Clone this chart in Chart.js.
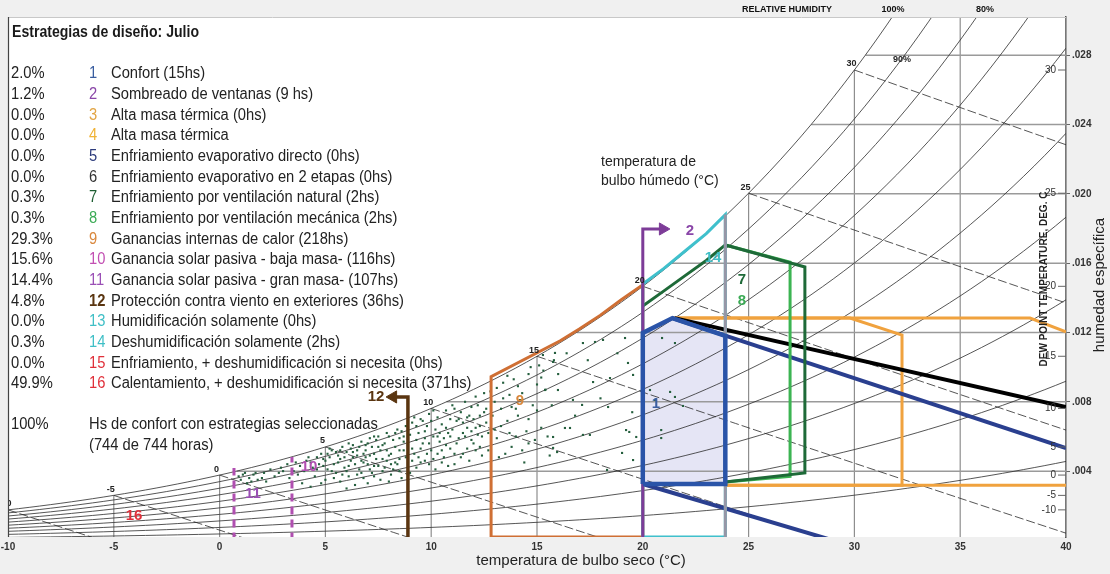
<!DOCTYPE html>
<html>
<head>
<meta charset="utf-8">
<script src="https://cdn.jsdelivr.net/npm/chart.js@4.4.1/dist/chart.umd.min.js"></script>
<style>
  html, body { margin: 0; padding: 0; background: #f0f0f0; }
  #wrap { width: 1110px; height: 574px; }
</style>
</head>
<body>
<div id="wrap"><canvas id="chart" width="1110" height="574"></canvas></div>
<script>
// ---- Axis and construction-line values ----
const DRY_BULB_TICKS = [-10, -5, 0, 5, 10, 15, 20, 25, 30, 35, 40];
const HUMIDITY_TICKS = [0.004, 0.008, 0.012, 0.016, 0.020, 0.024, 0.028];
const RH_LEVELS = [0.1, 0.2, 0.3, 0.4, 0.5, 0.6, 0.7, 0.8, 0.9, 1.0];
const WET_BULB_LEVELS = [-10, -5, 0, 5, 10, 15, 20, 25, 30];
const DEW_POINT_TICKS = [30, 25, 20, 15, 10, 5, 0, -5, -10];

// ---- Hourly observations for July: dry bulb °C, humidity ratio g/kg ----
const hourlyObs = [
  [0.9,3.7],[1.0,3.5],[1.2,3.9],[1.3,3.3],[1.4,3.6],[1.6,3.8],[1.8,3.5],[2.0,3.6],[2.1,3.9],[2.4,4.1],[2.6,3.7],[2.9,4.2],[3.2,4.4],[3.5,4.0],[3.7,3.8],[3.8,4.3],[4.1,4.6],[4.3,3.1],[4.4,4.2],
  [4.6,4.8],[4.8,5.0],[4.9,4.3],[5.0,4.6],[5.0,3.5],[5.1,4.1],[5.2,4.8],[5.3,5.2],[5.4,4.4],[5.5,3.9],[5.5,5.1],[5.6,4.9],[5.6,4.5],[5.7,3.4],[5.8,5.4],[5.9,4.2],[6.0,5.1],[6.0,4.0],[6.0,3.0],[6.1,3.7],[6.2,4.6],[6.2,5.3],[6.3,5.5],[6.3,4.8],[6.4,3.2],[6.5,4.9],[6.6,4.1],[6.6,5.4],[6.7,5.7],[6.8,3.6],[6.8,5.0],[6.9,5.2],[6.9,4.8],[7.0,4.4],[7.0,3.3],[7.1,5.9],[7.2,3.9],[7.2,5.4],[7.3,5.0],[7.4,4.7],[7.4,5.8],[7.5,6.0],[7.5,4.3],[7.6,3.5],[7.7,5.5],[7.8,4.2],[7.8,5.6],[7.9,6.2],[8.0,4.9],[8.0,6.0],[8.0,3.4],[8.1,3.8],[8.1,5.0],[8.2,5.8],[8.3,4.5],[8.4,6.4],[8.4,4.4],[8.5,5.2],[8.6,3.6],[8.6,6.3],[8.7,6.0],[8.7,5.2],[8.8,4.8],[8.9,5.5],[9.0,3.9],
  [9.1,6.8],[9.2,5.0],[9.3,4.2],[9.3,5.8],[9.4,6.2],[9.5,7.0],[9.5,4.5],[9.6,5.6],[9.7,4.6],[9.8,6.6],[9.8,5.0],[9.9,7.3],[10.0,5.2],[10.1,6.0],[10.2,4.1],[10.2,6.4],[10.3,7.1],[10.4,5.7],[10.5,6.7],[10.6,4.8],[10.6,5.9],[10.7,7.5],[10.8,6.2],[10.8,4.3],[10.9,5.3],[11.0,7.8],[11.0,6.4],[11.1,4.4],[11.2,6.9],[11.3,5.9],[11.4,7.4],[11.5,5.0],[11.5,6.8],[11.6,8.0],[11.7,6.5],[11.7,5.3],[11.8,4.6],[11.9,7.7],[12.0,5.6],[12.0,7.0],[12.1,8.3],[12.2,6.1],[12.3,7.2],[12.3,5.4],[12.4,4.9],[12.5,8.5],[12.6,6.8],
  [13.1,8.8],[13.2,4.8],[13.3,7.6],[13.4,9.1],[13.5,5.0],[13.6,6.9],[13.7,8.4],[13.8,5.4],[13.9,9.3],[14.0,6.0],[14.1,7.2],[14.2,8.1],[14.4,4.5],[14.5,6.3],[14.6,9.6],[14.7,10.0],[14.8,7.8],[14.9,5.8],[15.0,9.0],[15.1,10.1],[15.2,6.5],[15.4,8.7],[15.6,4.9],[15.8,10.4],
  [15.28,10.70],[15.85,10.82],[15.76,10.30],[17.17,11.39],[17.74,11.45],[18.12,11.57],[19.16,11.68],[20.91,11.68],[21.52,11.39],[19.30,10.24],[19.54,9.55],[17.65,9.14],[18.45,9.37],[15.38,8.68],[15.99,8.68],[16.70,8.11],[17.13,7.82],[18.36,7.70],[20.34,8.68],[21.29,8.57],[21.52,8.28],[21.90,7.76],[20.58,8.11],[16.32,6.49],[16.56,6.49],[17.17,6.09],[17.50,6.09],[15.76,5.97],[15.76,5.34],[19.21,6.37],[19.36,6.26],[19.69,5.97],[20.87,6.37],[20.87,5.91],[19.02,5.05],[19.54,4.64],[18.31,4.07],[15.95,5.10],
  [1.1,3.8],[1.5,3.4],[1.7,3.9],[2.2,3.4],[2.8,3.9],[3.0,4.0],[3.3,3.6],[3.6,4.5],[3.9,3.3],[4.0,4.0],[4.2,4.8],[4.5,3.7],[4.7,4.4],[4.8,3.3],[5.2,5.3],[5.4,3.6],[5.7,4.7],[5.8,3.8],[6.1,5.6],[6.4,4.4],[6.5,5.2],[6.7,3.9],[6.8,4.5],[7.0,5.6],[7.1,4.1],[7.3,3.7],[7.3,6.0],[7.6,5.2],[7.7,4.0],[7.9,4.6],[8.2,4.1],[8.3,6.2],[8.5,4.0],[8.5,5.9],[8.8,6.6],[8.9,4.2],[9.0,6.1],[9.1,5.3],[9.2,7.1],[9.4,4.8],[9.6,6.9],[9.7,5.9],[9.9,4.4],[10.0,6.9],[10.1,7.5],[10.3,5.0],[10.4,6.2],[10.5,4.5],[10.7,5.5],[10.9,7.0],[11.1,7.6],[11.2,5.6],[11.4,4.8],[11.6,6.0],[11.8,7.2],[11.9,5.8],[12.1,6.5],[12.2,7.8],[12.4,6.0],[12.6,7.6],[12.7,5.2],[12.8,8.6],[13.0,6.4],[13.0,8.0],[13.3,6.6],[13.6,9.5],[13.8,7.7],[14.1,8.9],[14.3,5.2],[14.6,7.0],[15.0,7.5],[15.3,9.8],[15.5,6.0],[16.0,9.6],[16.4,10.8],[16.8,7.2],[17.4,10.4],[18.0,8.2],[18.8,10.8],[19.5,7.4],
  [4.3,4.5],[4.6,4.1],[4.9,4.7],[5.1,5.0],[5.3,4.0],[5.7,5.2],[5.9,4.8],[6.1,4.3],[6.3,5.1],[6.5,3.8],[6.7,4.6],[6.9,5.5],[7.1,4.9],[7.3,4.3],[7.5,5.4],[7.7,4.7],[7.9,5.2],[8.1,4.4],[8.3,5.4],[8.5,4.7],[8.7,5.7],[8.9,5.0],[9.1,4.6],[9.3,6.6],[9.5,5.3],[9.7,6.3],[9.9,5.6],[10.1,4.7],[10.3,6.0],[10.5,5.2],[10.7,6.5],[10.9,6.0],[11.1,5.0],[11.3,7.0],[11.5,6.2],[11.7,7.1],[11.9,6.3],[12.1,5.2],[12.3,6.6],[12.5,7.4],[12.7,6.2],[12.9,7.2],[13.1,5.9],[13.4,8.2],[13.7,6.2],[14.0,7.6],[14.3,8.5],[14.6,5.6],[15.2,9.4],[15.7,7.8]
];

// ---- Design-strategy outlines: [dry bulb °C, humidity ratio kg/kg] ----
const comfortZone   = [[20,0.00326],[20,0.01197],[21.4,0.01283],[23.9,0.01180],[23.9,0.00326],[20,0.00326]];
const comfortUpper  = [[21.4,0.01283],[40,0.00533]];
const comfortLower  = [[20,0.00326],[29,0.0]];
const evapTwoStage  = [[21.5,0.01283],[40,0.00770]];
const shadingArrow  = [[20,0.0],[20,0.01797],[20.95,0.01797]];
const dehumidZone   = [[20,0.0002],[20,0.0148],[21,0.0157],[22,0.0167],[23,0.0177],[23.9,0.0188],[23.9,0.0002],[20,0.0002]];
const dehumidEdge   = [[23.9,0.0],[23.9,0.0188]];
const natVentZone   = [[20,0.01353],[21,0.01440],[22,0.01528],[23,0.01615],[23.9,0.01705],[27.66,0.01578],[27.66,0.00390],[23.9,0.00337]];
const mechVentZone  = [[23.9,0.01705],[26.96,0.01605],[26.96,0.00370],[23.9,0.00337]];
const internalGain  = [[12.83,0.0002],[12.83,0.00945],[16.1,0.01152],[17,0.0122],[18,0.0130],[19,0.0139],[20,0.01475],[20,0.0002],[12.83,0.0002]];
const massZone      = [[21.5,0.01283],[29.79,0.01283],[32.25,0.01185],[32.25,0.00318],[23.9,0.00318]];
const massNightTop  = [[21.5,0.01283],[38.3,0.01283],[40,0.01203]];
const massNightBase = [[23.9,0.00318],[40,0.00318]];
const windArrow     = [[8.9,0.0],[8.9,0.00828],[8.2,0.00828]];
const solarLowMass  = [[3.42,0.0],[3.42,0.00482]];
const solarHighMass = [[0.68,0.0],[0.68,0.00418]];

// ---- Legend rows ----
const legendPct = ['2.0%','1.2%','0.0%','0.0%','0.0%','0.0%','0.3%','0.3%','29.3%','15.6%','14.4%','4.8%','0.0%','0.3%','0.0%','49.9%'];
const legendNum = ['1','2','3','4','5','6','7','8','9','10','11','12','13','14','15','16'];
const legendText = [
  'Confort (15hs)',
  'Sombreado de ventanas (9 hs)',
  'Alta masa térmica (0hs)',
  'Alta masa térmica',
  'Enfriamiento evaporativo directo (0hs)',
  'Enfriamiento evaporativo en 2 etapas (0hs)',
  'Enfriamiento por ventilación natural (2hs)',
  'Enfriamiento por ventilación mecánica (2hs)',
  'Ganancias internas de calor (218hs)',
  'Ganancia solar pasiva - baja masa- (116hs)',
  'Ganancia solar pasiva - gran masa- (107hs)',
  'Protección contra viento en exteriores (36hs)',
  'Humidificación solamente (0hs)',
  'Deshumidificación solamente (2hs)',
  'Enfriamiento, + deshumidificación si necesita (0hs)',
  'Calentamiento, + deshumidificación si necesita (371hs)'
];
const legendColors = ['#3a5ea0','#8a46a8','#e2a444','#f0b234','#2c3b7c','#333333','#1d5e32','#3bab55','#d9873c','#c24fb2','#9a4fb5','#5a3510','#3fbfc6','#3fbfc6','#e0303a','#e0303a'];

// ---- Psychrometric relations at sea-level pressure ----
const P_ATM = 101.325;
function satPressure(t) { return 0.61094 * Math.exp(17.625 * t / (t + 243.04)); }
function humidityRatio(t, rh) { const pv = rh * satPressure(t); return 0.622 * pv / (P_ATM - pv); }
function dewPoint(w) { const pv = w * P_ATM / (0.622 + w); const a = Math.log(pv / 0.61094); return 243.04 * a / (17.625 - a); }
function wetBulbW(t, twb) {
  const ws = humidityRatio(twb, 1);
  return ((2501 - 2.326 * twb) * ws - 1.006 * (t - twb)) / (2501 + 1.86 * t - 4.186 * twb);
}

const FONT = 'Liberation Sans, Arial, sans-serif';

const layers = [];
function addLine(points, color, width, extra) {
  layers.push(Object.assign({
    data: points.map(([x, y]) => ({ x, y })),
    showLine: true, borderColor: color, borderWidth: width,
    pointRadius: 0, fill: false, tension: 0,
    borderJoinStyle: 'miter', borderCapStyle: 'butt'
  }, extra || {}));
}

// comfort zone fill
addLine(comfortZone, 'rgba(0,0,0,0)', 0, { fill: 'shape', backgroundColor: '#e5e5f5' });

// dry-bulb verticals up to saturation
DRY_BULB_TICKS.forEach(t => addLine([[t, 0], [t, Math.min(humidityRatio(t, 1), 0.032)]], '#8e8e8e', 1.2));
// humidity-ratio horizontals from saturation to the right edge
HUMIDITY_TICKS.forEach(w => addLine([[dewPoint(w), w], [40, w]], '#9a9a9a', 1.5));

// relative humidity curves
RH_LEVELS.forEach(rh => {
  const pts = [];
  for (let t = -10; t <= 40.001; t += 0.5) {
    const w = humidityRatio(t, rh);
    pts.push([t, w]);
    if (w > 0.033) break;
  }
  addLine(pts, '#2b2b2b', 0.8);
});

// wet-bulb lines
WET_BULB_LEVELS.forEach(twb => {
  const ws = humidityRatio(twb, 1);
  const tEnd = Math.min(40, twb + (2501 - 2.326 * twb) * ws / 1.006);
  const pts = [];
  for (let i = 0; i <= 8; i++) {
    const t = twb + (tEnd - twb) * i / 8;
    pts.push([t, Math.max(wetBulbW(t, twb), -0.001)]);
  }
  addLine(pts, '#2b2b2b', 0.8, { borderDash: [9, 3] });
});

// hourly observations
layers.push({
  data: hourlyObs.map(([t, g]) => ({ x: t, y: g / 1000 })),
  showLine: false, pointStyle: 'rect', pointRadius: 1.5,
  pointBackgroundColor: '#255f3e', pointBorderWidth: 0
});

// strategy outlines
addLine(internalGain, '#cf6f34', 3);
addLine(solarHighMass, '#b04fb0', 3, { borderDash: [8, 5] });
addLine(solarLowMass, '#b04fb0', 3, { borderDash: [8, 5] });
addLine(windArrow, '#5a3510', 3.5, {
  pointStyle: 'triangle', pointRotation: -90,
  pointRadius: c => (c.dataIndex === 2 ? 7 : 0),
  pointBackgroundColor: '#5a3510', pointBorderColor: '#5a3510', pointBorderWidth: 1
});
addLine(massNightBase, '#f0a23e', 3);
addLine(massNightTop, '#f0a23e', 3);
addLine(massZone, '#f0a23e', 3);
addLine(comfortLower, '#2a3f8f', 4);
addLine(evapTwoStage, '#000000', 4);
addLine(comfortUpper, '#2a3f8f', 4);
addLine(mechVentZone, '#3cb452', 3);
addLine(natVentZone, '#1e6a38', 3);
addLine(dehumidZone, '#3fc0cc', 3);
addLine(dehumidEdge, '#9696a6', 3);
addLine(shadingArrow, '#7d3c98', 3, {
  pointStyle: 'triangle', pointRotation: 90,
  pointRadius: c => (c.dataIndex === 2 ? 7 : 0),
  pointBackgroundColor: '#7d3c98', pointBorderColor: '#7d3c98', pointBorderWidth: 1
});
addLine(comfortZone, '#2a54a8', 4.5);

layers.forEach((d, i) => { d.order = layers.length - i; });

function txt(ctx, s, x, y, font, color, align, base) {
  ctx.font = font; ctx.fillStyle = color;
  ctx.textAlign = align || 'left'; ctx.textBaseline = base || 'middle';
  ctx.fillText(s, x, y);
}
// condensed text: the legend face is a narrow sans
function ntxt(ctx, s, x, y, font, color, sx) {
  ctx.save();
  ctx.translate(x, y); ctx.scale(sx, 1);
  txt(ctx, s, 0, 0, font, color, 'left');
  ctx.restore();
}

const decorations = {
  id: 'decorations',
  beforeDraw(chart) {
    const { ctx, chartArea: a } = chart;
    ctx.save();
    ctx.fillStyle = '#f0f0f0';
    ctx.fillRect(0, 0, chart.width, chart.height);
    ctx.fillStyle = '#ffffff';
    ctx.fillRect(a.left, a.top, a.right - a.left, a.bottom - a.top);
    ctx.restore();
  },
  afterDraw(chart) {
    const { ctx, chartArea: a } = chart;
    const xs = chart.scales.x, ys = chart.scales.y;
    ctx.save();

    // frame
    ctx.strokeStyle = '#c8c8c8'; ctx.lineWidth = 1;
    ctx.beginPath(); ctx.moveTo(a.left, a.top + 0.5); ctx.lineTo(a.right, a.top + 0.5); ctx.stroke();
    ctx.strokeStyle = '#444'; ctx.lineWidth = 1.2;
    ctx.beginPath(); ctx.moveTo(a.left + 0.5, a.top); ctx.lineTo(a.left + 0.5, a.bottom); ctx.stroke();

    // wet-bulb labels on the saturation curve
    ctx.save();
    ctx.beginPath(); ctx.rect(a.left + 1, a.top, a.right - a.left, a.bottom - a.top); ctx.clip();
    WET_BULB_LEVELS.forEach(t => {
      const px = xs.getPixelForValue(t), py = ys.getPixelForValue(humidityRatio(t, 1));
      txt(ctx, String(t), px - 3, py - 6, 'bold 9px ' + FONT, '#222', 'center');
    });
    ctx.restore();
    txt(ctx, '90%', 902, 60, 'bold 9px ' + FONT, '#222', 'center');

    // relative humidity header
    txt(ctx, 'RELATIVE HUMIDITY', 787, 10, 'bold 9px ' + FONT, '#111', 'center');
    txt(ctx, '100%', 893, 10, 'bold 9px ' + FONT, '#111', 'center');
    txt(ctx, '80%', 985, 10, 'bold 9px ' + FONT, '#111', 'center');

    // dew-point scale inside the right axis
    ctx.strokeStyle = '#666'; ctx.lineWidth = 1;
    DEW_POINT_TICKS.forEach(td => {
      const py = ys.getPixelForValue(humidityRatio(td, 1));
      ctx.beginPath(); ctx.moveTo(a.right - 8, py); ctx.lineTo(a.right, py); ctx.stroke();
      txt(ctx, String(td), a.right - 10, py, '10px ' + FONT, '#333', 'right');
    });
    ctx.save();
    ctx.translate(1044, 279); ctx.rotate(-Math.PI / 2);
    txt(ctx, 'DEW POINT TEMPERATURE, DEG. C', 0, 0, 'bold 10px ' + FONT, '#222', 'center');
    ctx.restore();

    // axis titles
    ctx.save();
    ctx.translate(1100, 285); ctx.rotate(-Math.PI / 2);
    txt(ctx, 'humedad específica', 0, 0, '15px ' + FONT, '#222', 'center');
    ctx.restore();
    txt(ctx, 'temperatura de bulbo seco (°C)', 581, 561, '15px ' + FONT, '#222', 'center');
    txt(ctx, 'temperatura de', 601, 162, '14px ' + FONT, '#222', 'left');
    txt(ctx, 'bulbo húmedo (°C)', 601, 181, '14px ' + FONT, '#222', 'left');

    // strategy labels
    const lab = (s, x, y, c) => txt(ctx, s, x, y, 'bold 15px ' + FONT, c, 'center');
    lab('2', 690, 231, '#8a46a8');
    lab('14', 713, 258, '#3fbfc6');
    lab('7', 742, 280, '#1e6a38');
    lab('8', 742, 301, '#3bab55');
    lab('9', 520, 401, '#d9873c');
    lab('1', 656, 404, '#3a5ea0');
    lab('12', 376, 397, '#5a3510');
    lab('10', 309, 467, '#b04fb0');
    lab('11', 253, 494, '#9a4fb5');
    lab('16', 134, 516, '#e0303a');

    // legend block
    const SX = 0.92;
    ntxt(ctx, 'Estrategias de diseño: Julio', 12, 33, 'bold 16px ' + FONT, '#1a1a1a', 0.88);
    legendText.forEach((s, i) => {
      const y = 74 + 20.67 * i;
      ntxt(ctx, legendPct[i], 11, y, '16px ' + FONT, '#222', SX);
      ntxt(ctx, legendNum[i], 89, y, (i === 11 ? 'bold ' : '') + '16px ' + FONT, legendColors[i], SX);
      ntxt(ctx, s, 111, y, '16px ' + FONT, '#222', SX);
    });
    ntxt(ctx, '100%', 11, 425, '16px ' + FONT, '#222', SX);
    ntxt(ctx, 'Hs de confort con estrategias seleccionadas', 89, 425, '16px ' + FONT, '#222', SX);
    ntxt(ctx, '(744 de 744 horas)', 89, 446, '16px ' + FONT, '#222', SX);

    ctx.restore();
  }
};

new Chart(document.getElementById('chart'), {
  type: 'scatter',
  data: { datasets: layers },
  options: {
    responsive: false,
    animation: false,
    events: [],
    layout: { padding: { left: 8, top: 17, right: 0, bottom: 0 } },
    plugins: { legend: { display: false }, tooltip: { enabled: false } },
    scales: {
      x: {
        type: 'linear', position: 'bottom', min: -10, max: 40,
        afterBuildTicks(s) { s.ticks = DRY_BULB_TICKS.map(v => ({ value: v })); },
        afterFit(s) { s.height = 37; s.paddingLeft = 0; s.paddingRight = 0; },
        ticks: { font: { family: FONT, size: 10, weight: 'bold' }, color: '#333', padding: 4, maxRotation: 0, autoSkip: false },
        grid: { display: false, drawTicks: false },
        border: { display: false }
      },
      y: {
        type: 'linear', position: 'right', min: 0.0002, max: 0.0302,
        afterBuildTicks(s) { s.ticks = HUMIDITY_TICKS.map(v => ({ value: v })); },
        afterFit(s) { s.width = 44; s.paddingTop = 0; s.paddingBottom = 0; },
        ticks: {
          font: { family: FONT, size: 10, weight: 'bold' }, color: '#333', padding: 2, autoSkip: false,
          callback: v => v.toFixed(3).replace(/^0/, '')
        },
        grid: { drawOnChartArea: false, drawTicks: true, tickLength: 4, color: '#666' },
        border: { display: true, color: '#555', width: 1.5 }
      }
    }
  },
  plugins: [decorations]
});
</script>
</body>
</html>
